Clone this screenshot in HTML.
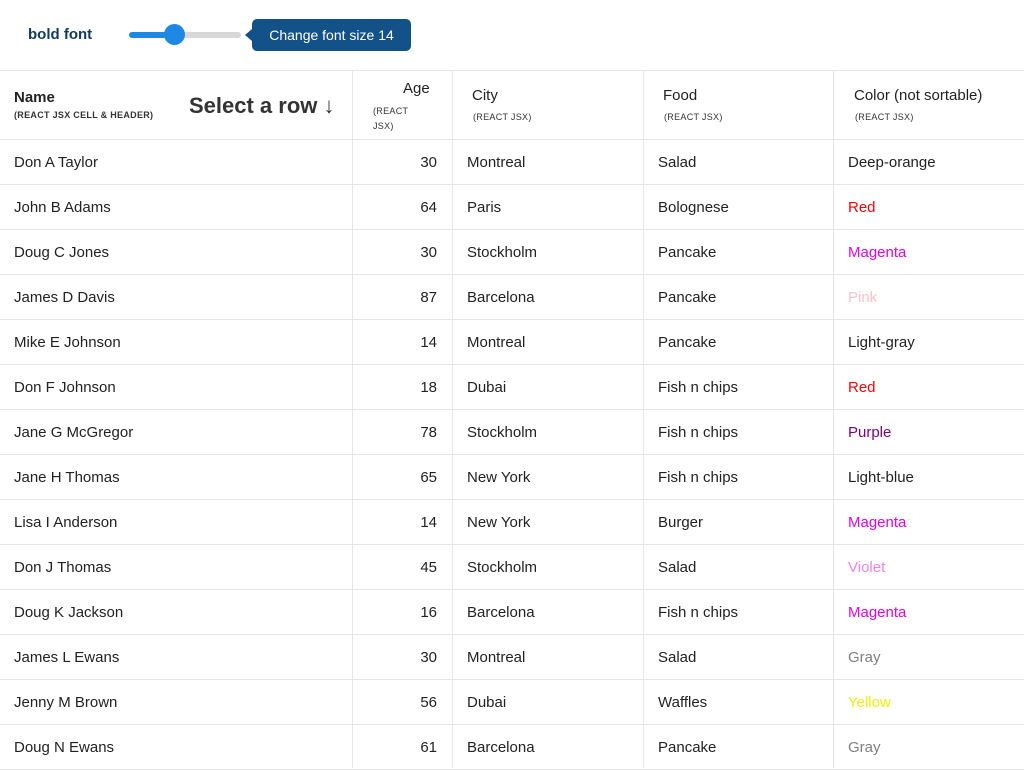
<!DOCTYPE html>
<html><head><meta charset="utf-8"><style>
body{margin:0;width:1024px;height:768px;overflow:hidden;background:#fff;font-family:"Liberation Sans",sans-serif;color:#222;position:relative}
.a{position:absolute;white-space:nowrap}
.hl{position:absolute;left:0;width:1024px;height:1px;background:#e6e6e6}
.vl{position:absolute;top:70px;height:698px;width:1px;background:#e6e6e6}
.c{position:absolute;font-size:15px;line-height:18px}
.sub{font-size:9px;color:#333;letter-spacing:.3px}
</style></head><body>
<div class="a" style="left:28px;top:26px;font-size:15px;color:#133a63;font-weight:bold">bold font</div>
<div class="a" style="left:129px;top:32px;width:112px;height:6px;border-radius:3px;background:#d8d8d8"></div>
<div class="a" style="left:129px;top:32px;width:46px;height:6px;border-radius:3px;background:#1e88e5"></div>
<div class="a" style="left:164px;top:24px;width:21px;height:21px;border-radius:50%;background:#1e88e5"></div>
<div class="a" style="left:245px;top:29px;width:0;height:0;border-top:6px solid transparent;border-bottom:6px solid transparent;border-right:7px solid #135289"></div>
<div class="a" style="left:252px;top:19px;width:159px;height:32px;border-radius:5px;background:#135289;color:#fff;font-size:14px;line-height:32px;text-align:center">Change font size 14</div>
<div class="hl" style="top:70px"></div>
<div class="hl" style="top:139px"></div>
<div class="vl" style="left:352px"></div><div class="vl" style="left:452px"></div><div class="vl" style="left:643px"></div><div class="vl" style="left:833px"></div>
<div class="a" style="left:14px;top:89px;font-size:15px;font-weight:bold">Name</div>
<div class="a sub" style="left:14px;top:110px;font-weight:bold">(REACT JSX CELL &amp; HEADER)</div>
<div class="a" style="left:189px;top:93px;font-size:22px;font-weight:bold;color:#333">Select a row ↓</div>
<div class="a" style="left:403px;top:80px;font-size:15px">Age</div>
<div class="a sub" style="left:373px;top:104px;line-height:15px">(REACT<br>JSX)</div>
<div class="a" style="left:472px;top:87px;font-size:15px">City</div><div class="a sub" style="left:473px;top:112px">(REACT JSX)</div>
<div class="a" style="left:663px;top:87px;font-size:15px">Food</div><div class="a sub" style="left:664px;top:112px">(REACT JSX)</div>
<div class="a" style="left:854px;top:87px;font-size:15px">Color (not sortable)</div><div class="a sub" style="left:855px;top:112px">(REACT JSX)</div>
<div id="rows"></div>
<script>
var d=[["Don A Taylor",30,"Montreal","Salad","Deep-orange","#222"],["John B Adams",64,"Paris","Bolognese","Red","#f00"],["Doug C Jones",30,"Stockholm","Pancake","Magenta","#e600e6"],["James D Davis",87,"Barcelona","Pancake","Pink","#ffc0cb"],["Mike E Johnson",14,"Montreal","Pancake","Light-gray","#222"],["Don F Johnson",18,"Dubai","Fish n chips","Red","#f00"],["Jane G McGregor",78,"Stockholm","Fish n chips","Purple","#800080"],["Jane H Thomas",65,"New York","Fish n chips","Light-blue","#222"],["Lisa I Anderson",14,"New York","Burger","Magenta","#e600e6"],["Don J Thomas",45,"Stockholm","Salad","Violet","#ee82ee"],["Doug K Jackson",16,"Barcelona","Fish n chips","Magenta","#e600e6"],["James L Ewans",30,"Montreal","Salad","Gray","#808080"],["Jenny M Brown",56,"Dubai","Waffles","Yellow","#f0f000"],["Doug N Ewans",61,"Barcelona","Pancake","Gray","#808080"]];
var h="";d.forEach(function(r,i){var y=139+45*i,t=y+15;
h+='<div class="hl" style="top:'+(y+45)+'px"></div>';
h+='<div class="c" style="left:14px;top:'+t+'px">'+r[0]+'</div>';
h+='<div class="c" style="right:587px;top:'+t+'px">'+r[1]+'</div>';
h+='<div class="c" style="left:467px;top:'+t+'px">'+r[2]+'</div>';
h+='<div class="c" style="left:658px;top:'+t+'px">'+r[3]+'</div>';
h+='<div class="c" style="left:848px;top:'+t+'px;color:'+r[5]+'">'+r[4]+'</div>';});
document.getElementById("rows").innerHTML=h;
</script>
</body></html>
